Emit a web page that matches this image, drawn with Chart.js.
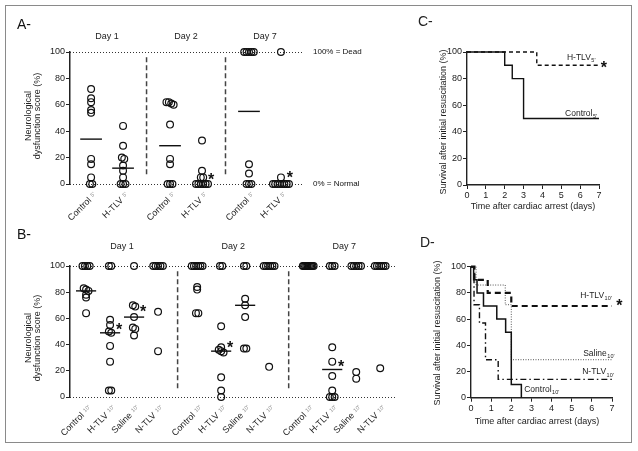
<!DOCTYPE html>
<html>
<head>
<meta charset="utf-8">
<script src="https://cdn.jsdelivr.net/npm/chart.js@4.4.0/dist/chart.umd.min.js"></script>
<style>
  body { margin: 0; background: #fff; }
  #fig { position: relative; width: 638px; height: 451px; background: #fff; overflow: hidden; }
  #frame { position: absolute; left: 5px; top: 5px; width: 625px; height: 436px; border: 1.5px solid #8a8a8a; }
  canvas { position: absolute; }
</style>
</head>
<body>
<div id="fig">
  <div id="frame"></div>
  <canvas id="chartA" width="380" height="225" style="left:0;top:0"></canvas>
  <canvas id="chartB" width="420" height="222" style="left:0;top:222px"></canvas>
  <canvas id="chartC" width="318" height="222" style="left:320px;top:0"></canvas>
  <canvas id="chartD" width="228" height="222" style="left:410px;top:222px"></canvas>
</div>
<script>
// ---- Panel A: neurological score, 5' groups ----
const daysA = ['Day 1', 'Day 2', 'Day 7'];
const groupsA = ['Control', 'H-TLV'];
const subA = "5'";
const controlA = [[72, 65, 62, 56, 54, 19, 15, 5, 0, 0], [62, 62, 61, 60, 45, 19, 15, 0, 0, 0], [100, 100, 100, 100, 100, 15, 8, 0, 0, 0]];
const htlvA = [[44, 29, 20, 19, 14, 10, 5, 0, 0, 0], [33, 10, 5, 5, 0, 0, 0, 0, 0, 0], [100, 5, 0, 0, 0, 0, 0, 0, 0, 0]];
const medianControlA = [34, 29, 55];
const medianHtlvA = [12, null, null];
const starsA = [[1, 1, 5], [2, 1, 7]]; // [day, group, score]

// ---- Panel B: neurological score, 10' groups ----
const daysB = ['Day 1', 'Day 2', 'Day 7'];
const groupsB = ['Control', 'H-TLV', 'Saline', 'N-TLV'];
const subB = "10'";
const controlB = [[100, 100, 100, 100, 83, 82, 81, 78, 76, 64], [100, 100, 100, 100, 100, 100, 84, 82, 64, 64], [100, 100, 100, 100, 100, 100, 100, 100, 100, 100]];
const htlvB = [[100, 100, 59, 55, 50, 49, 39, 27, 5, 5], [100, 100, 54, 38, 36, 35, 34, 15, 5, 0], [100, 100, 100, 38, 27, 16, 5, 0, 0, 0]];
const salineB = [[100, 70, 69, 61, 53, 52, 47], [100, 100, 75, 70, 61, 37, 37], [100, 100, 100, 100, 100, 19, 14]];
const ntlvB = [[100, 100, 100, 100, 100, 65, 35], [100, 100, 100, 100, 100, 100, 23], [100, 100, 100, 100, 100, 100, 22]];
const medianControlB = [81, null, null];
const medianHtlvB = [49, 35, 21];
const medianSalineB = [61, 70, null];
const medianNtlvB = [null, null, null];
const starsB = [[0, 1, 53], [0, 2, 67], [1, 1, 40], [2, 1, 25]];

// ---- Panel C: survival, 5' groups ----
const timeControlC = [0, 2, 2.4, 3, 7];
const survControlC = [100, 90, 80, 50, 50];
const timeHtlvC = [0, 3.7, 7];
const survHtlvC = [100, 90, 90];

// ---- Panel D: survival, 10' groups ----
const timeControlD = [0, 0.13, 0.3, 0.62, 1.28, 1.72, 2.0, 2.5];
const survControlD = [100, 90, 80, 70, 60, 50, 10, 0];
const timeHtlvD = [0, 0.17, 0.83, 2.0, 7];
const survHtlvD = [100, 90, 80, 70, 70];
const timeSalineD = [0, 0.25, 1.7, 2.0, 7];
const survSalineD = [100, 86, 71, 29, 29];
const timeNtlvD = [0, 0.15, 0.42, 0.72, 1.35, 7];
const survNtlvD = [100, 71, 57, 29, 14, 14];

const FONT = "'Liberation Sans', Arial, sans-serif";
const INK = '#222';
Chart.defaults.font.family = FONT;
Chart.defaults.font.size = 9;
Chart.defaults.color = INK;
Chart.defaults.animation = false;

function font(size, bold) {
  return (bold ? 'bold ' : '') + size + 'px ' + FONT;
}

// put (nearly) equal scores side by side like the original scatter
function spread(values, pos, step, maxSpan) {
  const v = values.slice().sort((a, b) => b - a);
  const out = [];
  let i = 0;
  while (i < v.length) {
    let j = i;
    while (j + 1 < v.length && v[j] - v[j + 1] <= 1.5) j++;
    const n = j - i + 1;
    const s = n > 1 ? Math.min(step, maxSpan / (n - 1)) : 0;
    for (let k = i; k <= j; k++) out.push({x: pos + (k - i - (n - 1) / 2) * s, y: v[k]});
    i = j + 1;
  }
  return out;
}

function rotatedLabel(ctx, x, y, main, sub) {
  ctx.save();
  ctx.translate(x, y);
  ctx.rotate(-Math.PI / 4);
  ctx.textAlign = 'right';
  ctx.textBaseline = 'middle';
  ctx.font = font(5.5);
  ctx.fillStyle = '#888';
  ctx.fillText(sub, 0, -1);
  const w = ctx.measureText(sub).width;
  ctx.font = font(9);
  ctx.fillStyle = INK;
  ctx.fillText(main, -w - 3, 0);
  ctx.restore();
}

function subLabel(ctx, x, y, main, sub) {
  ctx.textAlign = 'left';
  ctx.textBaseline = 'middle';
  ctx.fillStyle = INK;
  ctx.font = font(8.5);
  ctx.fillText(main, x, y);
  const w = ctx.measureText(main).width;
  ctx.font = font(5.5);
  ctx.fillText(sub, x + w + 0.5, y + 3);
}

function star(ctx, x, y) {
  ctx.font = font(16, true);
  ctx.textAlign = 'center';
  ctx.textBaseline = 'middle';
  ctx.fillStyle = '#111';
  ctx.fillText('*', x, y + 3.5);
}

// dot plot (panels A and B)
function dotChart(id, cfg) {
  const colPos = (d, g) => d * cfg.dayStep + g;
  const points = [];
  cfg.series.forEach((s, g) => s.forEach((vals, d) => {
    points.push(...spread(vals, colPos(d, g), cfg.jitter, cfg.maxSpan));
  }));

  const extras = {
    id: 'extras' + id,
    beforeDatasetsDraw(chart) {
      const {ctx, chartArea: a, scales: {x, y}} = chart;
      ctx.save();
      ctx.strokeStyle = '#333';
      ctx.lineWidth = 1;
      ctx.setLineDash([1, 2]);
      [0, 100].forEach(v => {
        const py = Math.round(y.getPixelForValue(v)) + 0.5;
        ctx.beginPath(); ctx.moveTo(a.left, py); ctx.lineTo(a.right, py); ctx.stroke();
      });
      ctx.setLineDash([5, 3]);
      ctx.lineWidth = 1.5;
      ctx.strokeStyle = '#444';
      for (let d = 1; d < cfg.days.length; d++) {
        const px = x.getPixelForValue(colPos(d, 0) - (cfg.dayStep - cfg.groups.length + 1) / 2);
        ctx.beginPath();
        ctx.moveTo(px, y.getPixelForValue(96));
        ctx.lineTo(px, y.getPixelForValue(6));
        ctx.stroke();
      }
      ctx.setLineDash([]);
      ctx.lineWidth = 1.4;
      ctx.strokeStyle = '#111';
      cfg.medians.forEach((m, g) => m.forEach((v, d) => {
        if (v == null) return;
        const py = y.getPixelForValue(v);
        ctx.beginPath();
        ctx.moveTo(x.getPixelForValue(colPos(d, g) - cfg.barHalf), py);
        ctx.lineTo(x.getPixelForValue(colPos(d, g) + cfg.barHalf), py);
        ctx.stroke();
      }));
      ctx.restore();
    },
    afterDraw(chart) {
      const {ctx, chartArea: a, scales: {x, y}} = chart;
      ctx.save();
      ctx.fillStyle = INK;
      ctx.font = font(9);
      ctx.textAlign = 'center';
      ctx.textBaseline = 'middle';
      cfg.days.forEach((dl, d) => {
        const mid = colPos(d, (cfg.groups.length - 1) / 2);
        ctx.fillText(dl, x.getPixelForValue(mid), cfg.dayY);
      });
      cfg.days.forEach((dl, d) => cfg.groups.forEach((gl, g) => {
        rotatedLabel(ctx, x.getPixelForValue(colPos(d, g)) + 4, a.bottom + 10, gl, cfg.sub);
      }));
      cfg.stars.forEach(([d, g, v]) => star(ctx, x.getPixelForValue(colPos(d, g)) + 9, y.getPixelForValue(v)));
      // y title
      ctx.save();
      ctx.translate(33.5, cfg.titleY);
      ctx.rotate(-Math.PI / 2);
      ctx.font = font(9);
      ctx.fillStyle = INK;
      ctx.textAlign = 'center';
      ctx.fillText('Neurological', 0, -4.5);
      ctx.fillText('dysfunction score (%)', 0, 4.5);
      ctx.restore();
      ctx.font = font(14);
      ctx.textAlign = 'left';
      ctx.fillText(cfg.letter, 17, cfg.dayY - 12);
      if (cfg.notes) {
        ctx.font = font(8);
        ctx.fillText('100% = Dead', a.right + 10, y.getPixelForValue(100));
        ctx.fillText('0% = Normal', a.right + 10, y.getPixelForValue(0));
      }
      ctx.restore();
    }
  };

  return new Chart(document.getElementById(id), {
    type: 'scatter',
    data: {
      datasets: [{
        data: points,
        pointRadius: 3.4,
        pointBorderWidth: 1.2,
        pointBorderColor: '#111',
        pointBackgroundColor: 'rgba(0,0,0,0)',
        showLine: false,
        clip: false
      }]
    },
    options: {
      responsive: false,
      layout: {padding: cfg.padding},
      plugins: {legend: {display: false}, tooltip: {enabled: false}},
      scales: {
        x: {type: 'linear', min: cfg.xMin, max: cfg.xMax, display: false},
        y: {
          min: 0, max: 100,
          ticks: {stepSize: 20, padding: 1, font: {size: 9}, color: INK},
          grid: {drawOnChartArea: false, tickLength: 4, color: INK},
          border: {color: INK, width: 1.5},
          afterFit(s) { s.width = 70; }
        }
      }
    },
    plugins: [extras]
  });
}

// Kaplan-Meier style step chart (panels C and D)
function kmChart(id, curves, notes, cfg) {
  const pts = (t, s) => t.map((v, i) => ({x: v, y: s[i]}));
  const extras = {
    id: 'km' + id,
    afterDraw(chart) {
      const {ctx, scales: {x, y}} = chart;
      ctx.save();
      ctx.fillStyle = INK;
      ctx.font = font(9);
      ctx.textAlign = 'center';
      ctx.textBaseline = 'middle';
      ctx.fillText('Time after cardiac arrest (days)', cfg.xTitle[0], cfg.xTitle[1]);
      ctx.save();
      ctx.translate(cfg.yTitle[0], cfg.yTitle[1]);
      ctx.rotate(-Math.PI / 2);
      ctx.fillText('Survival after initial resuscitation (%)', 0, 0);
      ctx.restore();
      notes.forEach(n => subLabel(ctx, x.getPixelForValue(n.t), y.getPixelForValue(n.v), n.text, n.sub));
      star(ctx, x.getPixelForValue(cfg.star[0]), y.getPixelForValue(cfg.star[1]));
      ctx.fillStyle = INK;
      ctx.font = font(14);
      ctx.textAlign = 'left';
      ctx.fillText(cfg.letter, cfg.letterPos[0], cfg.letterPos[1]);
      ctx.restore();
    }
  };
  const axis = (min, max, step) => ({
    type: 'linear', min, max,
    ticks: {stepSize: step, padding: 1, font: {size: 9}, color: INK},
    grid: {drawOnChartArea: false, tickLength: 4, color: INK},
    border: {color: INK, width: 1.4}
  });
  const xAxis = axis(0, 7, 1);
  xAxis.afterFit = s => { s.height = cfg.xh; };
  const yAxis = axis(0, 100, 20);
  yAxis.afterFit = s => { s.width = cfg.yw; };

  return new Chart(document.getElementById(id), {
    type: 'scatter',
    data: {
      datasets: curves.map(c => ({
        data: pts(c.t, c.s),
        showLine: true,
        stepped: true,
        borderColor: c.color,
        borderWidth: c.width,
        borderDash: c.dash,
        pointRadius: 0,
        clip: false
      }))
    },
    options: {
      responsive: false,
      layout: {padding: {left: 0, top: cfg.top, right: cfg.right, bottom: 0}},
      plugins: {legend: {display: false}, tooltip: {enabled: false}},
      scales: {x: xAxis, y: yAxis}
    },
    plugins: [extras]
  });
}

dotChart('chartA', {
  letter: 'A-', days: daysA, groups: groupsA, sub: subA,
  series: [controlA, htlvA], medians: [medianControlA, medianHtlvA], stars: starsA,
  dayStep: 2.47, xMin: -0.66, xMax: 6.63, jitter: 0.075, maxSpan: 0.5, barHalf: 0.34,
  padding: {left: 0, top: 52, right: 77, bottom: 41},
  dayY: 37, titleY: 116, notes: true
});

dotChart('chartB', {
  letter: 'B-', days: daysB, groups: groupsB, sub: subB,
  series: [controlB, htlvB, salineB, ntlvB],
  medians: [medianControlB, medianHtlvB, medianSalineB, medianNtlvB], stars: starsB,
  dayStep: 4.63, xMin: -0.67, xMax: 12.96, jitter: 0.1, maxSpan: 0.45, barHalf: 0.42,
  padding: {left: 0, top: 44, right: 23, bottom: 47},
  dayY: 25, titleY: 116, notes: false
});

kmChart('chartC', [
  {t: timeControlC, s: survControlC, color: '#111', width: 1.4, dash: []},
  {t: timeHtlvC, s: survHtlvC, color: '#111', width: 1.4, dash: [4, 3]}
], [
  {text: 'H-TLV', sub: "5'", t: 5.3, v: 96},
  {text: 'Control', sub: "5'", t: 5.2, v: 54}
], {
  top: 52, right: 39, yw: 147, xh: 37,
  xTitle: [213, 207], yTitle: [124, 122], star: [7.26, 90],
  letter: 'C-', letterPos: [98, 22]
});

kmChart('chartD', [
  {t: timeControlD, s: survControlD, color: '#111', width: 1.5, dash: []},
  {t: timeHtlvD, s: survHtlvD, color: '#111', width: 2.2, dash: [6, 4]},
  {t: timeSalineD, s: survSalineD, color: '#555', width: 1, dash: [1, 1.5]},
  {t: timeNtlvD, s: survNtlvD, color: '#111', width: 1.4, dash: [6, 3, 1.5, 3]}
], [
  {text: 'H-TLV', sub: "10'", t: 5.42, v: 78},
  {text: 'Saline', sub: "10'", t: 5.57, v: 34},
  {text: 'N-TLV', sub: "10'", t: 5.52, v: 19.6},
  {text: 'Control', sub: "10'", t: 2.64, v: 6}
], {
  top: 44.7, right: 26, yw: 61, xh: 46.3,
  xTitle: [127, 200], yTitle: [28, 111], star: [7.36, 72],
  letter: 'D-', letterPos: [10, 21]
});
</script>
</body>
</html>
